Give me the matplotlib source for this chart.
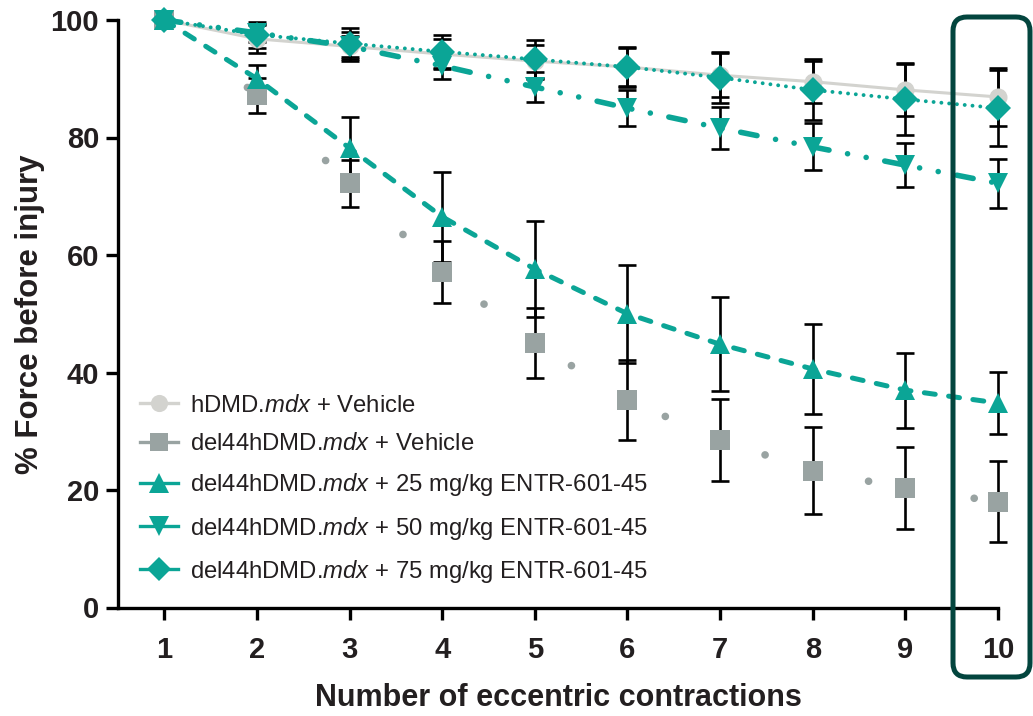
import matplotlib
matplotlib.use("Agg")
import matplotlib.pyplot as plt
from matplotlib.lines import Line2D
from matplotlib.patches import FancyBboxPatch
from matplotlib.transforms import IdentityTransform

plt.rcParams['font.family'] = ['Liberation Sans', 'DejaVu Sans']
plt.rcParams['mathtext.fontset'] = 'custom'
plt.rcParams['mathtext.rm'] = 'Liberation Sans'
plt.rcParams['mathtext.it'] = 'Liberation Sans:italic'

contractions = [1, 2, 3, 4, 5, 6, 7, 8, 9, 10]

hdmd_vehicle = [100, 96.8, 95.5, 94.2, 93.0, 92.0, 90.6, 89.5, 88.1, 86.9]
hdmd_vehicle_err = [0, 2.4, 2.4, 2.6, 2.8, 3.2, 3.7, 3.6, 4.5, 5.0]

del44_vehicle = [100, 87.2, 72.2, 57.1, 45.0, 35.3, 28.5, 23.3, 20.3, 18.0]
del44_vehicle_err = [0, 3.0, 4.0, 5.3, 6.0, 6.8, 7.0, 7.4, 7.0, 6.9]

dose25 = [100, 90.0, 78.2, 66.5, 57.6, 50.0, 44.8, 40.6, 37.0, 34.8]
dose25_err = [0, 2.3, 5.3, 7.7, 8.2, 8.3, 8.0, 7.6, 6.4, 5.3]

dose50 = [100, 97.8, 95.5, 92.2, 88.6, 85.0, 81.6, 78.4, 75.3, 72.2]
dose50_err = [0, 1.5, 1.8, 2.2, 2.5, 3.1, 3.6, 4.0, 3.8, 4.2]

dose75 = [100, 97.5, 96.0, 94.6, 93.3, 92.0, 90.2, 88.1, 86.5, 85.0]
dose75_err = [0, 2.2, 2.6, 2.8, 3.3, 3.4, 4.3, 5.2, 6.0, 6.5]

labels = [
    r"hDMD.$\mathit{mdx}$ + Vehicle",
    r"del44hDMD.$\mathit{mdx}$ + Vehicle",
    r"del44hDMD.$\mathit{mdx}$ + 25 mg/kg ENTR-601-45",
    r"del44hDMD.$\mathit{mdx}$ + 50 mg/kg ENTR-601-45",
    r"del44hDMD.$\mathit{mdx}$ + 75 mg/kg ENTR-601-45",
]

TEAL = '#0ba596'
LGRAY = '#d3d3cf'
MGRAY = '#99a3a2'
TXT = '#231f20'

fig = plt.figure(figsize=(10.33, 7.16), dpi=100)
ax = fig.add_axes([118/1033, 1-607.5/716, 880/1033, 587.5/716])

series = [
    dict(y=hdmd_vehicle, e=hdmd_vehicle_err, color=LGRAY, marker='o', ms=13,
         lw=2.2, dashes=None),
    dict(y=del44_vehicle, e=del44_vehicle_err, color=MGRAY, marker='s', ms=14,
         lw=5.5, dashes=(0.01, 14)),
    dict(y=dose25, e=dose25_err, color=TEAL, marker='^', ms=15,
         lw=3.6, dashes=(2.2, 2.7)),
    dict(y=dose50, e=dose50_err, color=TEAL, marker='v', ms=15,
         lw=4.0, dashes=(3.0, 3.4, 0.01, 3.4, 0.01, 3.4)),
    dict(y=dose75, e=dose75_err, color=TEAL, marker='D', ms=13,
         lw=2.8, dashes=(0.01, 2.0)),
]

for i, s in enumerate(series):
    ax.errorbar(contractions[1:], s['y'][1:], yerr=s['e'][1:], fmt='none',
                ecolor='black', elinewidth=1.9, capsize=6.5, capthick=1.9,
                zorder=2, clip_on=False)

handles = []
for i, s in enumerate(series):
    line, = ax.plot(contractions, s['y'], color=s['color'], lw=s['lw'],
                    zorder=3 + i, clip_on=False, dash_capstyle='round',
                    solid_capstyle='round')
    if s['dashes'] is not None:
        line.set_dashes(s['dashes'])
    ax.plot(contractions, s['y'], ls='none', marker=s['marker'], ms=s['ms'],
            color=s['color'], markeredgewidth=0, zorder=3.5 + i, clip_on=False)
    handles.append(Line2D([0], [0], color=s['color'], lw=2.4, marker=s['marker'],
                          ms=s['ms'] * 0.95, markeredgewidth=0))

ax.set_xlim(0.5, 10)
ax.set_ylim(0, 100)
ax.set_xticks(contractions)
ax.set_yticks([0, 20, 40, 60, 80, 100])
for sp in ['top', 'right']:
    ax.spines[sp].set_visible(False)
for sp in ['left', 'bottom']:
    ax.spines[sp].set_linewidth(2.4)
    ax.spines[sp].set_color('black')
ax.tick_params(axis='both', direction='out', length=8.5, width=2.4, color='black',
               labelsize=21, labelcolor=TXT)
ax.tick_params(axis='x', pad=12)
ax.tick_params(axis='y', pad=5)
for t in ax.get_xticklabels() + ax.get_yticklabels():
    t.set_fontweight('bold')

ax.set_xlabel('Number of eccentric contractions', fontsize=22, fontweight='bold',
              color=TXT, labelpad=14)
ax.set_ylabel('% Force before injury', fontsize=22.5, fontweight='bold',
              color=TXT, labelpad=4)

leg = ax.legend(handles, labels, loc='upper left', bbox_to_anchor=(0.025, 0.362),
                frameon=False, fontsize=17.2, handlelength=1.6, handletextpad=0.5,
                labelspacing=0.68, borderpad=0, borderaxespad=0)
for t in leg.get_texts():
    t.set_color(TXT)

box = FancyBboxPatch((953, 39), 77, 660, boxstyle='round,pad=0,rounding_size=14',
                     transform=IdentityTransform(), fill=False,
                     edgecolor='#03453e', linewidth=3.6, zorder=10)
fig.add_artist(box)

fig.savefig('out.png', dpi=100)
